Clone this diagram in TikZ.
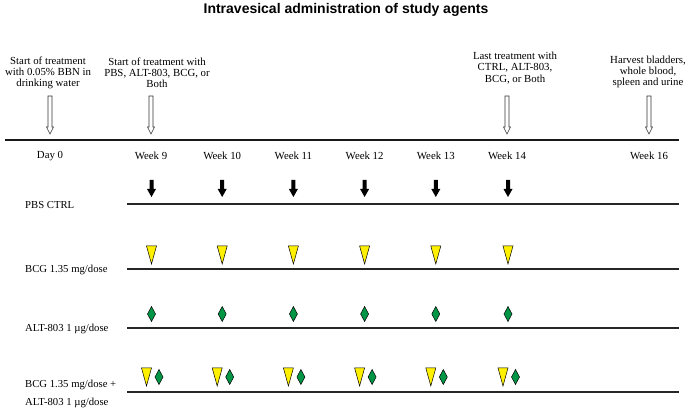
\documentclass[tikz,border=0pt]{standalone}
\usepackage{fontspec}
\setmainfont{Liberation Serif}
\newfontfamily\titlefont{Liberation Sans}
\definecolor{ylw}{RGB}{255,240,0}
\definecolor{grn}{RGB}{0,150,70}
\begin{document}
\begin{tikzpicture}[x=1pt,y=-1pt,
  lbl/.style={font=\fontsize{10.8}{11.2}\selectfont, align=center, inner sep=0pt},
  rowlbl/.style={font=\fontsize{10.7}{18}\selectfont, align=left, inner sep=0pt, anchor=west},
  wk/.style={font=\fontsize{10.8}{11}\selectfont, inner sep=0pt},
  tline/.style={line width=2pt, black!90},
  rline/.style={line width=1.4pt, black!85},
  tri/.pic={\draw[fill=ylw, line width=0.5pt] (-5,-9) -- (5,-9) -- (0,9) -- cycle;},
  diam/.pic={\draw[fill=grn, line width=0.5pt] (0,-7.5) -- (4,0) -- (0,7.5) -- (-4,0) -- cycle;},
  blk/.pic={\fill (-2,-8.5) -- (2,-8.5) -- (2,0.5) -- (4.5,0.5) -- (0,8.5) -- (-4.5,0.5) -- (-2,0.5) -- cycle;},
  hollow/.pic={\draw[line width=0.6pt, fill=white, draw=black!80] (-2,0) -- (2,0) -- (2,31) -- (3.5,31) -- (0,38) -- (-3.5,31) -- (-2,31) -- cycle;}
]
\useasboundingbox (0,0) rectangle (689,414);

\node[font=\titlefont\bfseries\fontsize{14}{16}\selectfont] (title) at (346,10) {Intravesical administration of study agents};

% main timeline
\coordinate (tl0) at (5,140);
\coordinate (tl1) at (679,140);
\draw[tline] (tl0) -- (tl1);

% annotations
\node[lbl] (a0) at (48,73) {Start of treatment\\with 0.05\% BBN in\\drinking water};
\node[lbl] (a9) at (157,73) {Start of treatment with\\PBS, ALT-803, BCG, or\\Both};
\node[lbl] (a14) at (515,68) {Last treatment with\\CTRL, ALT-803,\\BCG, or Both};
\node[lbl] (a16) at (648,72) {Harvest bladders,\\whole blood,\\spleen and urine};

\pic at (50,96) {hollow};
\pic at (151,96) {hollow};
\pic at (507,96) {hollow};
\pic at (649,96) {hollow};

% week labels
\node[wk] (d0) at (50,156) {Day 0};
\foreach \w/\x in {9/151,10/222.2,11/293.4,12/364.6,13/435.8,14/507}
  \node[wk] (w\w) at (\x,156) {Week \w};
\node[wk] (w16) at (649,156) {Week 16};

% rows
\node[rowlbl] (r1) at (25,205) {PBS CTRL};
\node[rowlbl] (r2) at (25,270) {BCG 1.35 mg/dose};
\node[rowlbl] (r3) at (25,329) {ALT-803 1 \textmu g/dose};
\node[rowlbl] (r4) at (25,394) {BCG 1.35 mg/dose +\\ALT-803 1 \textmu g/dose};

\coordinate (l1a) at (127,204); \coordinate (l1b) at (679,204);
\coordinate (l2a) at (127,269); \coordinate (l2b) at (679,269);
\coordinate (l3a) at (127,328); \coordinate (l3b) at (679,328);
\coordinate (l4a) at (127,392); \coordinate (l4b) at (679,392);
\draw[rline] (l1a) -- (l1b);
\draw[rline] (l2a) -- (l2b);
\draw[rline] (l3a) -- (l3b);
\draw[rline] (l4a) -- (l4b);

\foreach \x in {151.5,222.2,293.4,364.6,435.8,508}{
  \pic at (\x,188.5) {blk};
  \pic at (\x,255) {tri};
  \pic at (\x,314) {diam};
  \pic at (\x-5,377) {tri};
  \pic at (\x+7.5,377) {diam};
}
\end{tikzpicture}
\end{document}
